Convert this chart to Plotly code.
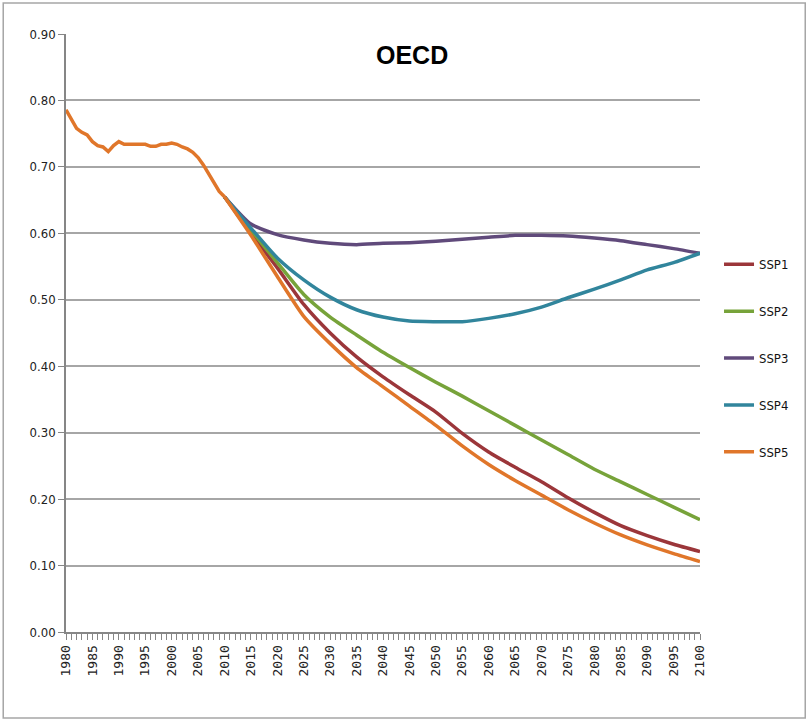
import plotly.graph_objects as go

# historical values (shared by all scenarios)
hist_years = list(range(1980, 2011))
hist_vals = [0.786, 0.772, 0.758, 0.752, 0.748, 0.738, 0.732, 0.730, 0.723, 0.732,
             0.738, 0.734, 0.734, 0.735, 0.735, 0.734, 0.731, 0.731, 0.734, 0.734,
             0.736, 0.734, 0.730, 0.727, 0.722, 0.714, 0.703, 0.690, 0.677, 0.663,
             0.655]

# projections, every 5 years
proj_years = list(range(2010, 2101, 5))
ssp1 = [0.655, 0.600, 0.548, 0.493, 0.450, 0.414, 0.384, 0.357, 0.331, 0.299,
        0.271, 0.248, 0.226, 0.202, 0.180, 0.160, 0.145, 0.132, 0.121]
ssp2 = [0.655, 0.605, 0.556, 0.508, 0.474, 0.447, 0.421, 0.398, 0.376, 0.355,
        0.333, 0.311, 0.289, 0.267, 0.245, 0.226, 0.207, 0.188, 0.169]
ssp3 = [0.655, 0.614, 0.598, 0.590, 0.585, 0.583, 0.585, 0.586, 0.588, 0.591,
        0.594, 0.597, 0.597, 0.596, 0.593, 0.589, 0.583, 0.577, 0.570]
ssp4 = [0.655, 0.608, 0.563, 0.530, 0.504, 0.485, 0.474, 0.468, 0.467, 0.467,
        0.472, 0.479, 0.489, 0.503, 0.516, 0.530, 0.545, 0.556, 0.570]
ssp5 = [0.655, 0.597, 0.535, 0.475, 0.434, 0.398, 0.369, 0.340, 0.311, 0.280,
        0.252, 0.228, 0.206, 0.184, 0.164, 0.146, 0.131, 0.118, 0.106]

names = ['SSP1', 'SSP2', 'SSP3', 'SSP4', 'SSP5']
series = [ssp1, ssp2, ssp3, ssp4, ssp5]
colors = ['#9b363a', '#77a33a', '#604a7b', '#31859c', '#e0762a']

fig = go.Figure()

for name, vals, col in zip(names, series, colors):
    fig.add_trace(go.Scatter(
        x=proj_years, y=vals, mode='lines', name=name, legendgroup=name,
        line=dict(color=col, width=3.5, shape='spline', smoothing=0.6)))

# the shared history drawn in the SSP5 colour, like the original
fig.add_trace(go.Scatter(x=hist_years, y=hist_vals, mode='lines',
                         line=dict(color=colors[4], width=3.5),
                         showlegend=False, hoverinfo='skip'))

fig.update_layout(
    width=807, height=721,
    margin=dict(l=66, r=107, t=34, b=89),
    paper_bgcolor='white', plot_bgcolor='white',
    font=dict(family='Liberation Sans Narrow, DejaVu Sans Condensed, Arial', size=13, color='#222'),
    legend=dict(x=1.03, y=0.64, yanchor='top', xanchor='left',
                tracegroupgap=27, itemwidth=30,
                font=dict(size=13, color='#111')),
    annotations=[dict(text='<b>OECD</b>', x=0.545, y=0.965, xref='paper', yref='paper',
                      showarrow=False, xanchor='center', yanchor='middle',
                      font=dict(family='Liberation Sans Narrow, Arial', size=25, color='black'))],
    shapes=[dict(type='rect', xref='paper', yref='paper',
                 x0=-0.099, x1=1.166, y0=-0.144, y1=1.052,
                 line=dict(color='#a6a6a6', width=1.5))],
)

fig.update_xaxes(range=[1980, 2100], tickmode='linear', tick0=1980, dtick=5,
                 tickangle=-90, showgrid=False, zeroline=False,
                 showline=True, linecolor='#868686', linewidth=2,
                 ticks='outside', ticklen=6, tickcolor='#868686',
                 minor=dict(dtick=1, tick0=1980, ticks='outside', ticklen=6, tickcolor='#868686'),
                 tickfont=dict(family='DejaVu Sans Mono, monospace', size=13, color='#222'))
fig.update_yaxes(range=[0, 0.9], dtick=0.1, tickformat='.2f',
                 showgrid=True, gridcolor='#a6a6a6', gridwidth=2, zeroline=False,
                 showline=True, linecolor='#868686', linewidth=1.5,
                 ticks='outside', ticklen=6, tickcolor='#868686')

# page body has a default margin; drop it so the figure sits at the window corner
fig.write_html('out.html', config={'displayModeBar': False},
               post_script="document.body.style.margin='0px';")
